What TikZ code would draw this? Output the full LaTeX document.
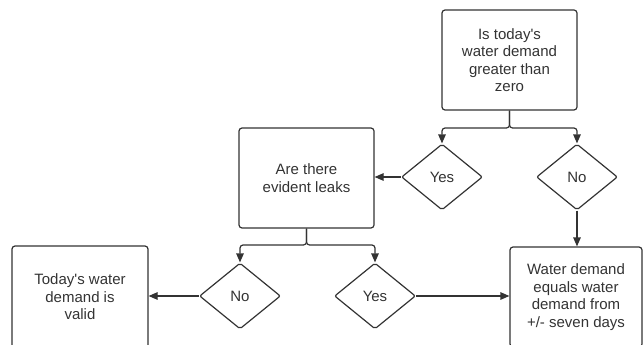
\documentclass[tikz,border=0pt]{standalone}
\usepackage{fontspec}
\setmainfont{Liberation Sans}[Ligatures=TeXOff]
\usetikzlibrary{shapes.geometric,arrows.meta}
\definecolor{ink}{HTML}{333333}
\tikzset{
  box/.style={draw=ink, line width=1.2pt, rounded corners=3pt, minimum width=135pt, minimum height=100pt, inner sep=0pt, align=center, text=ink, font=\fontsize{15}{17.5}\selectfont},
  choice/.style={draw=ink, line width=1.2pt, shape=diamond, rounded corners=2pt, minimum width=81pt, minimum height=66pt, inner sep=0pt, text=ink, font=\fontsize{15}{17.5}\selectfont},
  link/.style={draw=ink, line width=1.2pt, rounded corners=3pt, -{Triangle[length=9pt,width=7.5pt]}}
}
\begin{document}
\begin{tikzpicture}[x=1pt,y=-1pt]
\useasboundingbox (0,0) rectangle (643,345);
\clip (0,0) rectangle (643,345);
\node[box] (top) at (509.5,60) {Is today's\\water demand\\greater than\\zero};
\node[choice] (yes1) at (442,177) {Yes};
\node[choice] (no1) at (577,177) {No};
\node[box] (leaks) at (306.5,178) {Are there\\evident leaks};
\node[choice] (no2) at (240,296) {No};
\node[choice] (yes2) at (375,296) {Yes};
\node[box, minimum width=136pt, minimum height=102pt] (valid) at (80,297) {Today's water\\demand is\\valid};
\node[box, minimum width=132pt, minimum height=100pt] (equal) at (576,297) {Water demand\\equals water\\demand from\\+/- seven days};
\coordinate (j1) at (509.5,128);
\coordinate (j2) at (306.5,245);
\draw[link] (top.south) -- (j1) -| (yes1.north);
\draw[link] (top.south) -- (j1) -| (no1.north);
\draw[link] (yes1.west) -- (leaks.east |- yes1.west);
\draw[link] (no1.south) -- (no1.south |- equal.north);
\draw[link] (leaks.south) -- (j2) -| (no2.north);
\draw[link] (leaks.south) -- (j2) -| (yes2.north);
\draw[link] (no2.west) -- (valid.east |- no2.west);
\draw[link] (yes2.east) -- (equal.west |- yes2.east);
\end{tikzpicture}
\end{document}
